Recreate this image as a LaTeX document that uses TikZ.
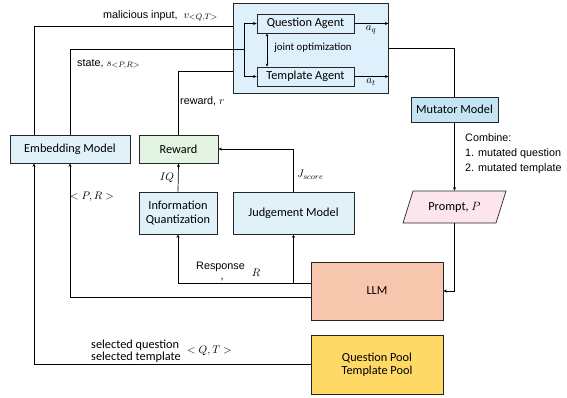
\documentclass[tikz,border=0pt]{standalone}
\usepackage{fontspec}
\setmainfont{Carlito}
\newfontfamily\arialf{Liberation Sans}
\usetikzlibrary{arrows.meta,calc}
\definecolor{contbg}{HTML}{DDF0FB}
\definecolor{bluebg}{HTML}{E1F1FA}
\definecolor{mutbg}{HTML}{C3E4F3}
\definecolor{rewbg}{HTML}{E3F4E2}
\definecolor{prbg}{HTML}{FDE5EE}
\definecolor{llmbg}{HTML}{F6C6AD}
\definecolor{qpbg}{HTML}{FED966}
\begin{document}
\begin{tikzpicture}[x=1pt,y=-1pt,
  box/.style={draw=black!85, line width=0.7pt, inner sep=0pt, align=center,
    font=\fontsize{12.3}{13.5}\selectfont},
  conn/.style={draw=black, line width=0.7pt},
  arr/.style={conn, -{Stealth[length=3.5pt,width=3pt]}},
  lab/.style={inner sep=0pt, font=\arialf\fontsize{10.8}{13}\selectfont},
  mlab/.style={inner sep=0pt, font=\fontsize{11}{13}\selectfont},
  clab/.style={inner sep=0pt, font=\fontsize{12.3}{12.5}\selectfont, align=left}]
\useasboundingbox (0,0) rectangle (567,397);
\fill[white] (0,0) rectangle (567,397);

% container and agents
\node[box, fill=contbg, minimum width=155pt, minimum height=90pt] (cont) at (310.5,48) {};
\node[box, fill=contbg, minimum width=97pt, minimum height=19pt] (qa) at (305.5,23.5) {Question Agent};
\node[box, fill=contbg, minimum width=97pt, minimum height=19pt] (ta) at (305.5,76.5) {Template Agent};
\node[inner sep=0pt, font=\fontsize{10.8}{12}\selectfont] (jo) at (313,48) {joint optimization};

% other boxes
\node[box, fill=mutbg, minimum width=87pt, minimum height=25pt] (mut) at (454.5,109.5) {Mutator Model};
\node[box, fill=bluebg, minimum width=120pt, minimum height=28pt] (emb) at (70,149) {Embedding Model};
\node[box, fill=rewbg, minimum width=79pt, minimum height=28pt] (rew) at (178.5,149) {Reward};
\node[box, fill=bluebg, minimum width=78pt, minimum height=42pt] (iq) at (178,213) {Information\\Quantization};
\node[box, fill=bluebg, minimum width=121pt, minimum height=42pt] (jm) at (293.5,213) {Judgement Model};
\node[box, fill=llmbg, minimum width=132pt, minimum height=58pt] (llm) at (377,291) {LLM};
\node[box, fill=qpbg, minimum width=132pt, minimum height=59pt] (qp) at (377,364.5) {Question Pool\\Template Pool};

% prompt parallelogram
\filldraw[fill=prbg, draw=black!85, line width=0.7pt] (403,223) -- (413,191) -- (506,191) -- (496,223) -- cycle;
\node[box, draw=none, minimum width=83pt, minimum height=32pt] (prompt) at (454.5,207) {Prompt, $P$};

% helper coordinates
\coordinate (m1) at (34,26);
\coordinate (br) at (244,49);
\coordinate (r1) at (178.5,71);
\coordinate (resp) at (178,283);
\coordinate (pr) at (70,297);
\coordinate (sel) at (34,364);
\coordinate (js) at (293.5,149);
\coordinate (po) at (454.5,291);
\coordinate (jx) at (267,0);

% top feedback lines
\draw[conn] (emb.north -| m1) |- (cont.west |- m1);
\draw[conn] (emb.north) |- (br);
\draw[arr] (br) |- (qa.west);
\draw[arr] (br) |- (ta.west);
\draw[conn] (rew.north) |- (cont.west |- r1);

% agent outputs
\draw[arr] (qa.east) -- (cont.east |- qa.east);
\draw[arr] (ta.east) -- (cont.east |- ta.east);
\draw[conn, {Stealth[length=3pt,width=2.5pt]}-{Stealth[length=3pt,width=2.5pt]}] (qa.south -| jx) -- (ta.north -| jx);

% to mutator and prompt
\draw[conn] (cont.east) -| (mut.north);
\draw[arr] (mut.south) -- (prompt.north);
\draw[arr] (prompt.south) |- (llm.east |- po);

% response
\draw[arr] (llm.west |- resp) -| (iq.south);
\draw[arr] (jm.south |- resp) -- (jm.south);
\draw[arr] (iq.north) -- (rew.south);
\draw[arr] (jm.north) |- (rew.east |- js);

% back to embedding
\draw[arr] (llm.west |- pr) -| (emb.south);
\draw[arr] (qp.west |- sel) -| (emb.south -| sel);

% labels
\node[lab, anchor=base west] (l1) at (103,18) {malicious input,\ \ $v_{<Q,T>}$};
\node[lab, anchor=base west] (l2) at (77,66) {state, $s_{<P,R>}$};
\node[lab, anchor=base west] (l3) at (180,104) {reward, $r$};
\node[mlab] (laq) at (371,30) {$a_q$};
\node[mlab] (lat) at (371,82) {$a_t$};
\node[lab, anchor=base west, align=left] (l4) at (465,141) {Combine:};
\node[lab, anchor=base west] (l5) at (465,156) {1. mutated question};
\node[lab, anchor=base west] (l6) at (465,171) {2. mutated template};
\node[mlab] (liq) at (167,178) {$IQ$};
\node[mlab, anchor=west] (ljs) at (297,175) {$J_{score}$};
\node[mlab] (lpr) at (92,197) {$<P,R>$};
\node[lab, anchor=base west] (l7) at (196,269) {Response};
\node[mlab] (lr) at (256,273) {$R$};
\node[lab] (lc) at (222,280) {,};
\node[clab, anchor=west] (l8) at (91,351) {selected question\\selected template};
\node[mlab, anchor=west] (lqt) at (187,351) {$<Q,T>$};
\end{tikzpicture}
\end{document}
